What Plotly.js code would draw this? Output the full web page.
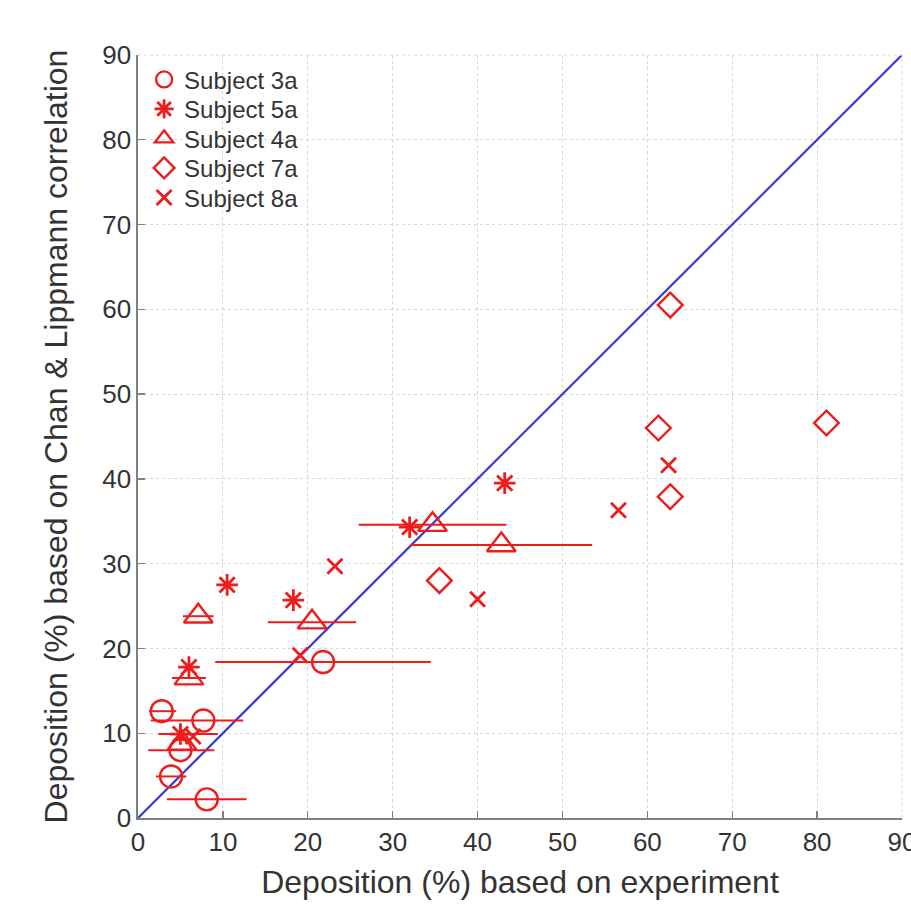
<!DOCTYPE html>
<html>
<head>
<meta charset="utf-8">
<script src="https://cdn.plot.ly/plotly-3.0.1.min.js"></script>
<style>html,body{margin:0;padding:0;background:#fff;}#chart{width:911px;height:904px;}</style>
</head>
<body>
<div id="chart"></div>
<script>
// Subject 3a (circles)
const s3a_x = [2.8, 7.7, 21.8, 5.0, 3.9, 8.1];
const s3a_y = [12.6, 11.5, 18.4, 8.0, 4.9, 2.2];
const s3a_ep = [1.7, 4.7, 12.7, 4.0, 1.8, 4.7];
const s3a_em = [1.5, 6.2, 12.7, 3.8, 1.8, 4.7];
// Subject 5a (stars)
const s5a_x = [10.5, 18.3, 32.0, 43.2, 6.0, 5.0];
const s5a_y = [27.5, 25.7, 34.3, 39.5, 17.8, 9.9];
// Subject 4a (triangles)
const s4a_x = [7.1, 6.0, 20.5, 34.7, 42.8, 5.2];
const s4a_y = [23.8, 16.5, 23.1, 34.6, 32.2, 8.8];
const s4a_e = [1.8, 2.0, 5.2, 8.7, 10.7, 0];
// Subject 7a (diamonds)
const s7a_x = [62.7, 61.3, 62.7, 81.1, 35.5];
const s7a_y = [60.5, 46.0, 37.9, 46.6, 28.0];
// Subject 8a (crosses)
const s8a_x = [62.5, 56.6, 23.2, 40.0, 19.1, 6.5];
const s8a_y = [41.6, 36.3, 29.7, 25.8, 19.2, 9.6];
// extra bar (cluster near 10)
const cl_x = [5.9];
const cl_y = [9.9];
const cl_e = [3.5];
// reference line
const line_x = [0, 90];
const line_y = [0, 90];
const ticks = [0, 10, 20, 30, 40, 50, 60, 70, 80, 90];

const red = '#ee1c1c';
const FONT = 'Liberation Sans, Arial, sans-serif';
const errStyle = {type:'data', symmetric:false, color:red, thickness:2, width:0};
const traces = [
  {x:line_x, y:line_y, mode:'lines', line:{color:'#3838d8', width:2.2}, showlegend:false, hoverinfo:'skip'},
  {x:s3a_x, y:s3a_y, mode:'markers', showlegend:false, marker:{opacity:0, size:1},
   error_x:Object.assign({}, errStyle, {array:s3a_ep, arrayminus:s3a_em})},
  {x:s4a_x, y:s4a_y, mode:'markers', showlegend:false, marker:{opacity:0, size:1},
   error_x:Object.assign({}, errStyle, {symmetric:true, array:s4a_e})},
  {x:cl_x, y:cl_y, mode:'markers', showlegend:false, marker:{opacity:0, size:1},
   error_x:Object.assign({}, errStyle, {symmetric:true, array:cl_e})},
  {x:s3a_x, y:s3a_y, mode:'markers', name:'Subject 3a',
   marker:{symbol:'circle-open', size:22, color:red, line:{width:2.4, color:red}}},
  {x:s5a_x, y:s5a_y, mode:'markers', name:'Subject 5a',
   marker:{symbol:'asterisk-open', size:18, color:red, line:{width:2.8, color:red}}},
  {x:s4a_x, y:s4a_y, mode:'markers', name:'Subject 4a',
   marker:{symbol:'triangle-up-open', size:25, color:red, line:{width:2.4, color:red}}},
  {x:s7a_x, y:s7a_y, mode:'markers', name:'Subject 7a',
   marker:{symbol:'diamond-open', size:19, color:red, line:{width:2.4, color:red}}},
  {x:s8a_x, y:s8a_y, mode:'markers', name:'Subject 8a',
   marker:{symbol:'x-thin-open', size:15, color:red, line:{width:2.8, color:red}}}
];

const axisCommon = {
  range:[0, 90], tickvals:ticks, ticktext:ticks.map(String),
  showgrid:true, gridcolor:'#d6d6d6', griddash:'dot', gridwidth:1,
  zeroline:false, showline:true, linecolor:'#808080', linewidth:1.6,
  ticks:'inside', ticklen:7, tickwidth:1.3, tickcolor:'#808080',
  tickfont:{family:FONT, size:26, color:'#333333'},
  ticklabeloverflow:'allow',
  mirror:false, fixedrange:true
};

const layout = {
  width:911, height:904,
  margin:{l:138, r:9, t:55, b:86},
  paper_bgcolor:'#ffffff', plot_bgcolor:'#ffffff',
  showlegend:true,
  legend:{x:0.008, y:0.997, xanchor:'left', yanchor:'top', bgcolor:'rgba(0,0,0,0)',
    font:{family:FONT, size:24, color:'#333333'},
    itemwidth:30, tracegroupgap:0},
  xaxis:Object.assign({}, axisCommon, {
    title:{text:'Deposition (%) based on experiment', standoff:15,
      font:{family:FONT, size:32, color:'#333333'}}
  }),
  yaxis:Object.assign({}, axisCommon, {
    title:{text:'Deposition (%) based on Chan &amp; Lippmann correlation', standoff:25,
      font:{family:FONT, size:32, color:'#333333'}}
  }),
  shapes:[
    {type:'line', xref:'paper', yref:'paper', x0:0, x1:1, y0:1, y1:1,
     line:{color:'#d6d6d6', width:1, dash:'dot'}},
    {type:'line', xref:'paper', yref:'paper', x0:1, x1:1, y0:0, y1:1,
     line:{color:'#d6d6d6', width:1, dash:'dot'}}
  ]
};

Plotly.newPlot('chart', traces, layout, {displayModeBar:false, staticPlot:true}).then(function(gd){
  // tighten legend row spacing to match the reference (~29.5 px per row)
  const items = gd.querySelectorAll('.legend .traces');
  if (!items.length) return;
  const m = /translate\(\s*([-\d.]+)[ ,]+([-\d.]+)\)/.exec(items[0].getAttribute('transform') || '');
  if (!m) return;
  const x0 = parseFloat(m[1]), y0 = parseFloat(m[2]);
  items.forEach(function(el, i){
    el.setAttribute('transform', 'translate(' + x0 + ',' + (y0 + i * 29.5) + ')');
  });
});
</script>
</body>
</html>
